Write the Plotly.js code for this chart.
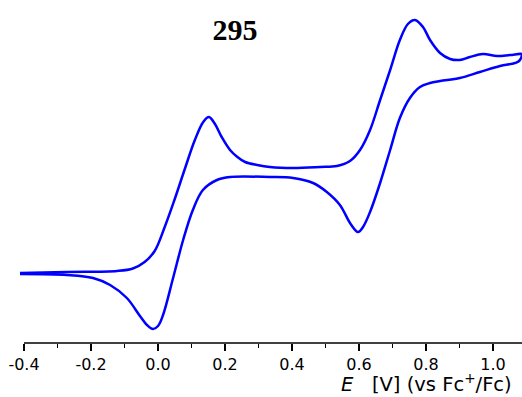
<!DOCTYPE html>
<html>
<head>
<meta charset="utf-8">
<script src="https://cdn.plot.ly/plotly-3.0.1.min.js"></script>
<style>html,body{margin:0;padding:0;background:#fff;}#chart{width:522px;height:397px;}</style>
</head>
<body>
<div id="chart"></div>
<script>
// Forward (anodic) scan, potential E in V vs Fc+/Fc, current in arbitrary units
const forwardE = [-0.412, -0.272, -0.122, -0.075, -0.040, -0.010, 0.020, 0.050, 0.080, 0.110, 0.135, 0.152, 0.170, 0.190, 0.215, 0.237, 0.260, 0.296, 0.334, 0.403, 0.484, 0.534, 0.573, 0.603, 0.633, 0.663, 0.693, 0.722, 0.746, 0.767, 0.791, 0.812, 0.842, 0.872, 0.901, 0.931, 0.970, 1.012, 1.051, 1.087];
const forwardI = [-0.1, 0.0, 0.1, 0.35, 1.0, 2.1, 4.5, 7.3, 10.3, 13.2, 15.0, 15.5, 14.8, 13.5, 12.2, 11.5, 11.0, 10.7, 10.5, 10.4, 10.5, 10.6, 11.1, 12.2, 14.2, 17.2, 20.2, 23.2, 24.8, 25.2, 24.5, 23.2, 21.9, 21.3, 21.2, 21.5, 21.8, 21.6, 21.7, 21.8];
// Reverse (cathodic) scan
const reverseE = [1.087, 1.078, 1.066, 1.021, 0.961, 0.901, 0.842, 0.812, 0.782, 0.752, 0.722, 0.693, 0.663, 0.633, 0.612, 0.597, 0.575, 0.543, 0.504, 0.463, 0.403, 0.334, 0.215, 0.176, 0.134, 0.104, 0.075, 0.045, 0.015, 0.000, -0.015, -0.033, -0.054, -0.093, -0.143, -0.194, -0.272, -0.412];
const reverseI = [21.7, 21.1, 20.9, 20.6, 20.0, 19.4, 19.1, 18.9, 18.5, 17.4, 15.4, 12.2, 8.9, 6.0, 4.5, 4.0, 4.8, 6.7, 8.0, 8.9, 9.4, 9.5, 9.5, 9.2, 8.2, 6.2, 3.2, -0.6, -4.3, -5.4, -5.7, -5.3, -4.4, -2.6, -1.3, -0.6, -0.3, -0.2];
const xTickVals = [-0.4, -0.2, 0.0, 0.2, 0.4, 0.6, 0.8, 1.0];
const xTickText = ["-0.4", "-0.2", "0.0", "0.2", "0.4", "0.6", "0.8", "1.0"];
const chartTitle = "295";

const cvE = forwardE.concat(reverseE);
const cvI = forwardI.concat(reverseI);

const trace = {
  x: cvE, y: cvI, type: 'scatter', mode: 'lines',
  line: {color: '#0000ff', width: 2.5, shape: 'spline', smoothing: 1},
  hoverinfo: 'skip', showlegend: false
};

const layout = {
  width: 522, height: 397,
  margin: {l: 19, r: 0, t: 10, b: 54, pad: 0},
  paper_bgcolor: '#ffffff', plot_bgcolor: '#ffffff',
  showlegend: false,
  title: {
    text: '<b>' + chartTitle + '</b>',
    font: {family: '"Liberation Serif", "Times New Roman", serif', size: 30, color: '#000'},
    x: 235 / 522, xref: 'container', xanchor: 'center',
    y: 1 - 29 / 397, yref: 'container', yanchor: 'middle'
  },
  xaxis: {
    range: [-0.415, 1.0866], autorange: false,
    showgrid: false, zeroline: false, showline: false,
    tickmode: 'array', tickvals: xTickVals, ticktext: xTickText,
    ticks: 'outside', ticklen: 7, tickwidth: 1.5, tickcolor: '#000',
    minor: {dtick: 0.1, tick0: 0, ticks: 'outside', ticklen: 4, tickwidth: 1.5, tickcolor: '#000', showgrid: false},
    tickfont: {family: '"DejaVu Sans", Arial, sans-serif', size: 16, color: '#000'},
    fixedrange: true
  },
  yaxis: {
    range: [-7.1, 26.2], autorange: false,
    visible: false, showgrid: false, zeroline: false, fixedrange: true
  },
  shapes: [{
    type: 'line', xref: 'x', yref: 'paper', x0: -0.4, x1: 1.0866, y0: 0, y1: 0,
    line: {color: '#000', width: 1.5}
  }],
  annotations: [{
    text: '<i>E</i>&nbsp;&nbsp;&nbsp;[V] (vs Fc<sup>+</sup>/Fc)',
    xref: 'paper', yref: 'paper', x: 1, y: 0, xanchor: 'right', yanchor: 'middle',
    xshift: -8, yshift: -40, showarrow: false,
    font: {family: '"DejaVu Sans", Arial, sans-serif', size: 19.5, color: '#000'}
  }]
};

Plotly.newPlot('chart', [trace], layout, {displayModeBar: false, staticPlot: true});
</script>
</body>
</html>
